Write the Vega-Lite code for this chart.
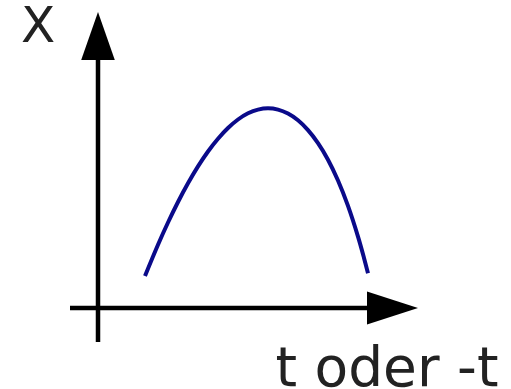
{
  "$schema": "https://vega.github.io/schema/vega-lite/v6.json",
  "width": 511,
  "height": 389,
  "padding": 0,
  "autosize": {"type": "none"},
  "background": "white",
  "config": {"view": {"stroke": null}},
  "datasets": {
    "curve": [
      {"t": 4.7, "x": 3.21},
      {"t": 6.0, "x": 6.33},
      {"t": 7.0, "x": 8.55},
      {"t": 8.0, "x": 10.6},
      {"t": 9.0, "x": 12.47},
      {"t": 10.0, "x": 14.16},
      {"t": 11.0, "x": 15.65},
      {"t": 12.0, "x": 16.93},
      {"t": 13.0, "x": 18.0},
      {"t": 14.0, "x": 18.85},
      {"t": 15.0, "x": 19.47},
      {"t": 16.0, "x": 19.84},
      {"t": 17.0, "x": 19.97},
      {"t": 18.0, "x": 19.84},
      {"t": 19.0, "x": 19.44},
      {"t": 20.0, "x": 18.77},
      {"t": 21.0, "x": 17.79},
      {"t": 22.0, "x": 16.49},
      {"t": 23.0, "x": 14.83},
      {"t": 24.0, "x": 12.75},
      {"t": 25.0, "x": 10.21},
      {"t": 26.0, "x": 7.14},
      {"t": 26.6, "x": 5.01},
      {"t": 27.0, "x": 3.47}
    ],
    "vaxis": [{"t": 0, "x": -3.4, "x2": 24.8}],
    "haxis": [{"t": -2.8, "t2": 27.2, "x": 0}],
    "varrow": [{"t": 0, "x": 27.2}],
    "harrow": [{"t": 29.45, "x": 0}],
    "ylabel": [{"t": -7.7, "x": 26.6, "label": "X"}],
    "tlabel": [{"t": 17.75, "x": -7.8, "label": "t oder -t"}]
  },
  "layer": [
    {
      "data": {"name": "vaxis"},
      "mark": {"type": "rule", "color": "black", "strokeWidth": 4.5},
      "encoding": {
        "x": {"field": "t", "type": "quantitative", "scale": {"domain": [-9.8, 41.3], "nice": false, "zero": false}, "axis": null},
        "y": {"field": "x", "type": "quantitative", "scale": {"domain": [-8.1, 30.8], "nice": false, "zero": false}, "axis": null},
        "y2": {"field": "x2"}
      }
    },
    {
      "data": {"name": "haxis"},
      "mark": {"type": "rule", "color": "black", "strokeWidth": 4.5},
      "encoding": {
        "x": {"field": "t", "type": "quantitative"},
        "x2": {"field": "t2"},
        "y": {"field": "x", "type": "quantitative"}
      }
    },
    {
      "data": {"name": "varrow"},
      "mark": {"type": "point", "shape": "M0,-1L0.7,1L-0.7,1Z", "filled": true, "color": "black", "opacity": 1, "size": 2304, "strokeWidth": 0},
      "encoding": {
        "x": {"field": "t", "type": "quantitative"},
        "y": {"field": "x", "type": "quantitative"}
      }
    },
    {
      "data": {"name": "harrow"},
      "mark": {"type": "point", "shape": "M1,0L-1,0.65L-1,-0.65Z", "filled": true, "color": "black", "opacity": 1, "size": 2601, "strokeWidth": 0},
      "encoding": {
        "x": {"field": "t", "type": "quantitative"},
        "y": {"field": "x", "type": "quantitative"}
      }
    },
    {
      "data": {"name": "curve"},
      "mark": {"type": "line", "color": "#0a0a8a", "strokeWidth": 4, "interpolate": "catmull-rom", "strokeCap": "butt"},
      "encoding": {
        "x": {"field": "t", "type": "quantitative"},
        "y": {"field": "x", "type": "quantitative"}
      }
    },
    {
      "data": {"name": "ylabel"},
      "mark": {"type": "text", "font": "DejaVu Sans", "fontSize": 50, "align": "left", "baseline": "alphabetic", "color": "#222222"},
      "encoding": {
        "x": {"field": "t", "type": "quantitative"},
        "y": {"field": "x", "type": "quantitative"},
        "text": {"field": "label"}
      }
    },
    {
      "data": {"name": "tlabel"},
      "mark": {"type": "text", "font": "DejaVu Sans", "fontSize": 55, "align": "left", "baseline": "alphabetic", "color": "#222222"},
      "encoding": {
        "x": {"field": "t", "type": "quantitative"},
        "y": {"field": "x", "type": "quantitative"},
        "text": {"field": "label"}
      }
    }
  ]
}
